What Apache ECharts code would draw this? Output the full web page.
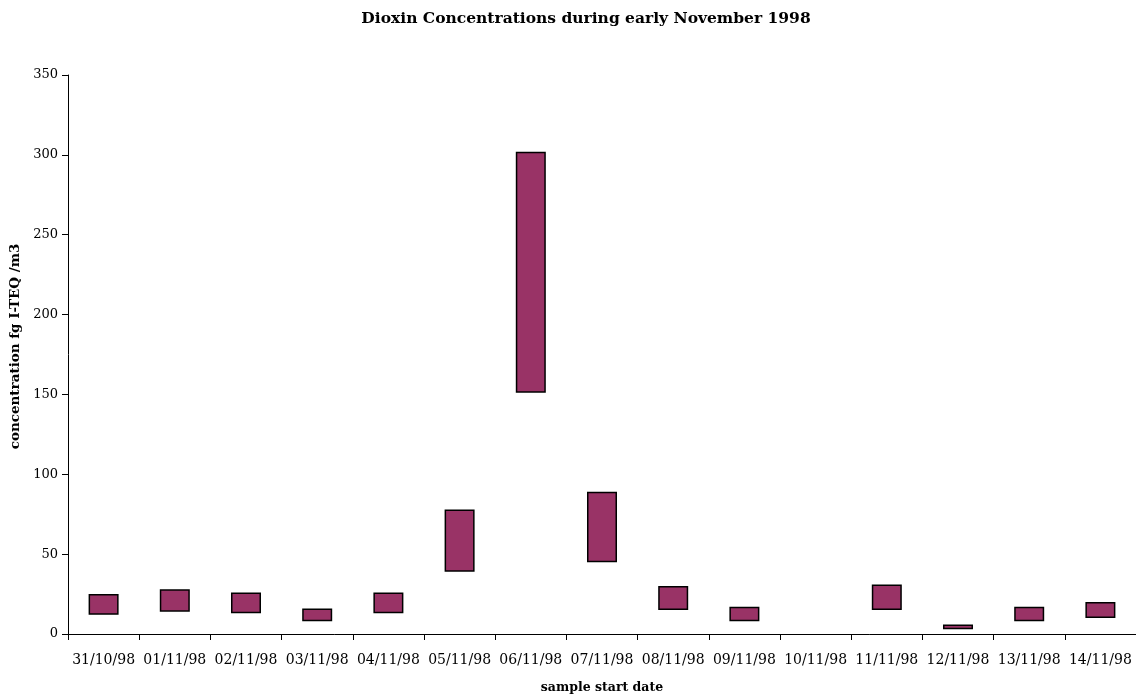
<!DOCTYPE html>
<html>
<head>
<meta charset="utf-8">
<script src="https://cdn.jsdelivr.net/npm/echarts@6/dist/echarts.min.js"></script>
<style>
html,body{margin:0;padding:0;background:#fff;overflow:hidden;}
#chart{width:1136px;height:695px;}
</style>
</head>
<body>
<div id="chart"></div>
<script>
var categories = ['31/10/98','01/11/98','02/11/98','03/11/98','04/11/98','05/11/98','06/11/98','07/11/98','08/11/98','09/11/98','10/11/98','11/11/98','12/11/98','13/11/98','14/11/98'];
var lowValues  = [12, 14, 13, 8, 13, 39, 151, 45, 15, 8, null, 15, 3, 8, 10];
var highValues = [25, 28, 26, 16, 26, 78, 302, 89, 30, 17, null, 31, 6, 17, 20];
var yTicks = [0, 50, 100, 150, 200, 250, 300, 350];

var baseData = lowValues.map(function (v) { return v == null ? '-' : v; });
var rangeData = highValues.map(function (h, i) {
  return (h == null || lowValues[i] == null) ? '-' : h - lowValues[i];
});

var serif = 'DejaVu Serif';
var chart = echarts.init(document.getElementById('chart'));
chart.setOption({
  animation: false,
  backgroundColor: '#fff',
  title: {
    text: 'Dioxin Concentrations during early November 1998',
    left: 581,
    textAlign: 'center',
    top: 6,
    textStyle: { fontFamily: serif, fontWeight: 'bold', fontSize: 15.5, color: '#000' }
  },
  grid: { left: 68, right: 0, top: 75, bottom: 61, containLabel: false, outerBoundsMode: 'none' },
  xAxis: {
    type: 'category',
    data: categories,
    boundaryGap: true,
    name: 'sample start date',
    nameLocation: 'middle',
    nameGap: 47,
    nameTextStyle: { fontFamily: serif, fontWeight: 'bold', fontSize: 12.5, color: '#000' },
    axisLine: { lineStyle: { color: '#000', width: 1 } },
    axisTick: { show: true, alignWithLabel: false, length: 6, lineStyle: { color: '#000' } },
    axisLabel: { interval: 0, margin: 19, fontFamily: serif, fontSize: 14, color: '#000' },
    splitLine: { show: false }
  },
  yAxis: {
    type: 'value',
    min: yTicks[0],
    max: yTicks[yTicks.length - 1],
    interval: yTicks[1] - yTicks[0],
    name: 'concentration fg I-TEQ /m3',
    nameLocation: 'middle',
    nameGap: 37,
    nameRotate: 90,
    nameTextStyle: { fontFamily: serif, fontWeight: 'bold', fontSize: 13.5, color: '#000', padding: [0, 0, 0, 16] },
    axisLine: { show: true, lineStyle: { color: '#000', width: 1 } },
    axisTick: { show: true, length: 6, lineStyle: { color: '#000' } },
    axisLabel: { margin: 10, fontFamily: serif, fontSize: 13, color: '#000' },
    splitLine: { show: false }
  },
  series: [
    {
      name: 'base',
      type: 'bar',
      stack: 'range',
      data: baseData,
      barWidth: 30,
      itemStyle: { color: 'rgba(0,0,0,0)', borderWidth: 0 },
      emphasis: { disabled: true },
      silent: true
    },
    {
      name: 'range',
      type: 'bar',
      stack: 'range',
      data: rangeData,
      barWidth: 30,
      itemStyle: { color: '#993366', borderColor: '#000', borderWidth: 1.5 }
    }
  ]
});
</script>
</body>
</html>
